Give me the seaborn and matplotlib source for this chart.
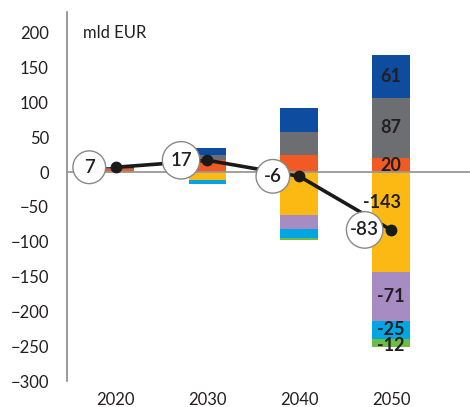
import matplotlib
matplotlib.use("Agg")
import matplotlib.pyplot as plt
import matplotlib.transforms as mtransforms
import numpy as np
import pandas as pd
import seaborn as sns

# dane (mld EUR)
years = ["2020", "2030", "2040", "2050"]
blue = [2, 10, 35, 61]
gray = [2, 6, 32, 87]
orange = [4, 18, 25, 20]
yellow = [-1, -11, -62, -143]
purple = [0, 0, -19, -71]
cyan = [0, -6, -14, -25]
green = [0, 0, -3, -12]
net = [7, 17, -6, -83]

colors = {
    "orange": "#F15A22",
    "gray": "#6D6E71",
    "blue": "#0D4C9E",
    "yellow": "#FDB913",
    "purple": "#A78BC3",
    "cyan": "#00A5E1",
    "green": "#6CBD45",
}

sns.set_style("white")
plt.rcParams["font.family"] = ["Lato", "DejaVu Sans"]

fig = plt.figure(figsize=(4.7, 4.07), dpi=100)
ax = fig.add_axes([67 / 470, 26 / 407, 403 / 470, 369 / 407])

# slupki dodatnie (od dolu) i ujemne (od zera w dol)
pos_layers = [("orange", orange), ("gray", gray), ("blue", blue)]
neg_layers = [("yellow", yellow), ("purple", purple), ("cyan", cyan), ("green", green)]

bottom = np.zeros(len(years))
for name, vals in pos_layers:
    df = pd.DataFrame({"year": years, "val": vals})
    sns.barplot(data=df, x="year", y="val", color=colors[name], saturation=1,
                width=0.41, bottom=bottom, errorbar=None, linewidth=0, ax=ax)
    bottom = bottom + np.array(vals)

bottom = np.zeros(len(years))
for name, vals in neg_layers:
    df = pd.DataFrame({"year": years, "val": vals})
    sns.barplot(data=df, x="year", y="val", color=colors[name], saturation=1,
                width=0.41, bottom=bottom, errorbar=None, linewidth=0, ax=ax)
    bottom = bottom + np.array(vals)

# etykiety w slupku 2050
last = len(years) - 1
b = 0
for name, vals in pos_layers:
    v = vals[last]
    ax.text(last, b + v / 2, f"{v}", ha="center", va="center", fontsize=13,
            fontweight="bold", color="#231F20", zorder=5)
    b += v
b = 0
for name, vals in neg_layers:
    v = vals[last]
    yy = b + v / 2
    xx = last
    if name == "yellow":
        yy = -43
        xx = last - 0.1
    if name == "green":
        yy -= 4
    ax.text(xx, yy, f"{v}", ha="center", va="center", fontsize=13,
            fontweight="bold", color="#231F20", zorder=5)
    b += v

ax.axhline(0, color="#999999", lw=1.3, zorder=3)

# linia salda
sns.lineplot(x=range(len(years)), y=net, color="#1A1A1A", lw=2.6, marker="o",
             markersize=8.5, markeredgewidth=0, ax=ax, zorder=6)
for i, v in enumerate(net):
    label = f"{v}"
    pad = 0.42 if len(label) <= 2 else 0.2
    ax.annotate(label, (i, v), xytext=(-19, 0), textcoords="offset points",
                ha="center", va="center", fontsize=13.5, fontweight="semibold",
                color="#231F20", zorder=7,
                bbox=dict(boxstyle=f"circle,pad={pad}", fc="white", ec="#888888", lw=1))

trans = mtransforms.blended_transform_factory(ax.transAxes, ax.transData)
ax.text(0.04, 200, "mld EUR", transform=trans, ha="left", va="center",
        fontsize=12, color="#231F20")

ax.set_xlim(-0.53, 3.86)
ax.set_ylim(-300, 230)
ax.set_yticks(range(-300, 201, 50))
ax.set_xlabel("")
ax.set_ylabel("")
ax.tick_params(axis="y", length=0, pad=13, labelsize=12, labelcolor="#231F20")
ax.tick_params(axis="x", length=0, pad=8, labelsize=12, labelcolor="#231F20")
for s in ["top", "right", "bottom"]:
    ax.spines[s].set_visible(False)
ax.spines["left"].set_color("#888888")
ax.spines["left"].set_linewidth(1.2)

fig.savefig("out.png", dpi=100)
